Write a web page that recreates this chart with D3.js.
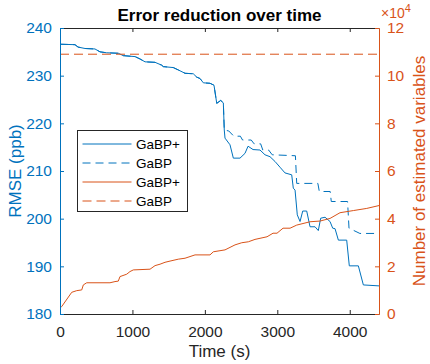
<!DOCTYPE html>
<html>
<head>
<meta charset="utf-8">
<script src="https://cdn.jsdelivr.net/npm/d3@7"></script>
<style>
  body { margin: 0; background: #fff; }
  text { font-family: "Liberation Sans", Arial, sans-serif; }
</style>
</head>
<body>
<div id="chart"></div>
<script>
// GaBP+ RMSE (left axis)
const gabpPlusTime = [0, 207, 249, 345, 483, 552, 645, 805, 874, 1036, 1105, 1174, 1312, 1404, 1426, 1564, 1633, 1726, 1840, 1887, 1933, 1979, 2071, 2126, 2164, 2219, 2255, 2268, 2278, 2347, 2393, 2485, 2554, 2596, 2665, 2761, 2830, 2899, 2968, 3037, 3106, 3199, 3221, 3245, 3276, 3314, 3351, 3406, 3452, 3521, 3566, 3599, 3659, 3728, 3765, 3797, 3843, 3958, 3994, 4119, 4188, 4404];
const gabpPlusRmse = [236.6, 236.5, 236.0, 235.7, 235.6, 235.0, 234.8, 234.7, 234.2, 234.0, 233.5, 232.9, 232.8, 232.2, 231.9, 231.7, 231.2, 230.5, 230.4, 229.7, 229.4, 228.5, 228.4, 228.0, 224.2, 224.8, 224.3, 218.6, 216.9, 215.5, 212.7, 212.7, 213.7, 215.2, 214.5, 214.4, 213.4, 213.0, 212.0, 210.8, 209.6, 209.2, 206.4, 206.0, 200.8, 199.4, 201.6, 201.6, 198.3, 198.3, 197.5, 200.1, 200.3, 199.4, 198.0, 197.9, 195.5, 195.5, 190.1, 190.1, 186.1, 185.9];

// GaBP RMSE (left axis)
const gabpTime = [0, 207, 249, 345, 483, 552, 645, 805, 874, 1036, 1105, 1174, 1312, 1404, 1426, 1564, 1633, 1726, 1840, 1887, 1933, 1979, 2071, 2126, 2164, 2219, 2255, 2268, 2330, 2400, 2490, 2520, 2640, 2680, 2770, 2800, 2880, 2930, 3250, 3268, 3560, 3580, 3730, 3745, 3970, 3990, 4140, 4404];
const gabpRmse = [236.6, 236.5, 236.0, 235.7, 235.6, 235.0, 234.8, 234.7, 234.2, 234.0, 233.5, 232.9, 232.8, 232.2, 231.9, 231.7, 231.2, 230.5, 230.4, 229.7, 229.4, 228.5, 228.4, 228.0, 224.2, 224.8, 224.3, 218.6, 218.4, 217.3, 217.3, 216.5, 216.5, 215.7, 215.7, 214.4, 214.4, 213.4, 213.2, 207.4, 207.4, 205.7, 205.7, 203.6, 203.6, 198.0, 196.9, 196.9];

// GaBP+ number of estimated variables (right axis)
const gabpPlusVarTime = [0, 23, 162, 231, 300, 322, 369, 690, 759, 805, 828, 921, 966, 1012, 1243, 1312, 1381, 1450, 1519, 1633, 1726, 1864, 2071, 2117, 2278, 2416, 2509, 2600, 2692, 2858, 2941, 2996, 3079, 3176, 3268, 3452, 3590, 3728, 3866, 4050, 4235, 4404];
const gabpPlusVars = [2500, 3100, 9100, 9800, 10100, 12200, 13100, 13100, 13600, 13800, 15700, 16700, 17800, 18500, 18800, 20300, 20900, 21700, 22200, 23000, 23400, 24800, 24800, 26100, 26900, 29000, 29900, 30300, 31300, 32400, 33900, 33900, 36000, 36000, 37300, 38700, 39000, 40100, 42500, 43400, 44300, 45500];

// GaBP number of estimated variables (right axis)
const gabpVarTime = [0, 4404];
const gabpVars = [109000, 109000];

const xTicks = [0, 1000, 2000, 3000, 4000];
const leftTicks = [180, 190, 200, 210, 220, 230, 240];
const rightTicks = [0, 20000, 40000, 60000, 80000, 100000, 120000];
const legendLabels = ["GaBP+", "GaBP", "GaBP+", "GaBP"];

function drawChart() {
    const BLUE = "#0072BD", ORANGE = "#D95319", DARK = "#262626";

    let margin = {top: 28, right: 51, bottom: 50, left: 60},
        width = 430 - margin.left - margin.right,
        height = 364 - margin.top - margin.bottom;

    let root = d3.select("#chart")
        .append("svg")
        .attr("width", 430)
        .attr("height", 364);

    let svg = root.append("g")
        .attr("transform", "translate(" + margin.left + "," + margin.top + ")");

    let x = d3.scaleLinear().domain([0, 4404]).range([0, width]);
    let yL = d3.scaleLinear().domain([180, 240]).range([height, 0]);
    let yR = d3.scaleLinear().domain([0, 120000]).range([height, 0]);

    svg.append("clipPath").attr("id", "clip")
        .append("rect").attr("width", width).attr("height", height);

    // series
    let series = [
        {t: gabpPlusTime, v: gabpPlusRmse, y: yL, color: BLUE, dash: null},
        {t: gabpTime, v: gabpRmse, y: yL, color: BLUE, dash: "8,5"},
        {t: gabpPlusVarTime, v: gabpPlusVars, y: yR, color: ORANGE, dash: null},
        {t: gabpVarTime, v: gabpVars, y: yR, color: ORANGE, dash: "9,5"}
    ];

    let plot = svg.append("g").attr("clip-path", "url(#clip)");
    series.forEach(function(s) {
        let line = d3.line()
            .x(function(d, i) { return x(s.t[i]); })
            .y(function(d) { return s.y(d); });
        plot.append("path")
            .datum(s.v)
            .attr("d", line)
            .attr("fill", "none")
            .attr("stroke", s.color)
            .attr("stroke-width", 1)
            .attr("stroke-dasharray", s.dash);
    });

    // axes
    let bottom = svg.append("g")
        .attr("transform", "translate(0," + height + ")")
        .call(d3.axisBottom(x).tickValues(xTicks).tickSize(-4).tickSizeOuter(0).tickPadding(12)
            .tickFormat(d3.format("d")));
    let top = svg.append("g")
        .call(d3.axisTop(x).tickValues(xTicks).tickSize(-4).tickSizeOuter(0).tickFormat(""));
    let left = svg.append("g")
        .call(d3.axisLeft(yL).tickValues(leftTicks).tickSize(-4).tickSizeOuter(0).tickPadding(8));
    let right = svg.append("g")
        .attr("transform", "translate(" + width + ",0)")
        .call(d3.axisRight(yR).tickValues(rightTicks).tickSize(-4).tickSizeOuter(0).tickPadding(8)
            .tickFormat(function(d) { return d / 10000; }));

    [[bottom, DARK], [top, DARK], [left, BLUE], [right, ORANGE]].forEach(function(a) {
        a[0].selectAll("path, line").attr("stroke", a[1]);
        a[0].selectAll("text")
            .attr("fill", a[1])
            .style("font-size", "15.5px")
            .style("font-family", "'Liberation Sans', Arial, sans-serif");
    });

    // labels
    root.append("text")
        .attr("x", margin.left + width / 2).attr("y", 21)
        .attr("text-anchor", "middle")
        .style("font-size", "17px").style("font-weight", "bold")
        .attr("fill", "#000")
        .text("Error reduction over time");

    root.append("text")
        .attr("x", margin.left + width / 2).attr("y", 357)
        .attr("text-anchor", "middle")
        .style("font-size", "17px")
        .attr("fill", DARK)
        .text("Time (s)");

    root.append("text")
        .attr("transform", "translate(21," + (margin.top + height / 2) + ") rotate(-90)")
        .attr("text-anchor", "middle")
        .style("font-size", "17px")
        .attr("fill", BLUE)
        .text("RMSE (ppb)");

    root.append("text")
        .attr("transform", "translate(425," + (margin.top + height / 2) + ") rotate(-90)")
        .attr("text-anchor", "middle")
        .style("font-size", "17px")
        .attr("fill", ORANGE)
        .text("Number of estimated variables");

    let expo = root.append("text")
        .attr("x", 381).attr("y", 18)
        .style("font-size", "14px")
        .attr("fill", ORANGE);
    expo.append("tspan").text("×10");
    expo.append("tspan").attr("dy", -6).style("font-size", "11px").text("4");

    // legend
    let lg = root.append("g").attr("transform", "translate(77.5,130.5)");
    lg.append("rect")
        .attr("width", 110).attr("height", 81)
        .attr("fill", "#fff").attr("stroke", DARK).attr("stroke-width", 1);
    series.forEach(function(s, i) {
        let yy = 13.5 + i * 19;
        lg.append("line")
            .attr("x1", 5).attr("x2", 54).attr("y1", yy).attr("y2", yy)
            .attr("stroke", s.color).attr("stroke-width", 1)
            .attr("stroke-dasharray", s.dash);
        lg.append("text")
            .attr("x", 58.5).attr("y", yy).attr("dy", "0.35em")
            .style("font-size", "13.5px")
            .attr("fill", "#000")
            .text(legendLabels[i]);
    });
}

drawChart();
</script>
</body>
</html>
